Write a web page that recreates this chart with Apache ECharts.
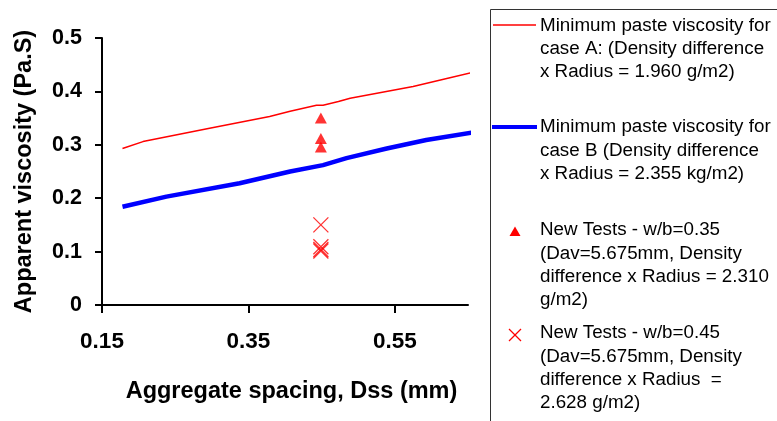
<!DOCTYPE html>
<html>
<head>
<meta charset="utf-8">
<script src="https://cdn.jsdelivr.net/npm/echarts@6/dist/echarts.min.js"></script>
<style>
  html, body { margin: 0; padding: 0; background: #fff; }
  #chart { width: 777px; height: 421px; }
</style>
</head>
<body>
<div id="chart"></div>
<script>
// Case A line (red, thin)
const caseA_x = [0.178, 0.206, 0.297, 0.379, 0.407, 0.443, 0.452, 0.473, 0.489, 0.575, 0.621, 0.661];
const caseA_y = [0.293, 0.306, 0.331, 0.353, 0.363, 0.374, 0.374, 0.381, 0.387, 0.409, 0.424, 0.437];
// Case B line (blue, thick)
const caseB_x = [0.178, 0.238, 0.338, 0.407, 0.452, 0.484, 0.539, 0.593, 0.661];
const caseB_y = [0.184, 0.203, 0.228, 0.250, 0.262, 0.275, 0.293, 0.309, 0.324];
// New tests w/b = 0.35 (triangles)
const tests035_x = [0.449, 0.449, 0.449];
const tests035_y = [0.350, 0.312, 0.296];
// New tests w/b = 0.45 (crosses)
const tests045_x = [0.449, 0.449, 0.449, 0.449];
const tests045_y = [0.150, 0.109, 0.104, 0.101];
// Tick labels
const xTicks = [0.15, 0.35, 0.55];
const yTicks = [0, 0.1, 0.2, 0.3, 0.4, 0.5];

const legendA = ['Minimum paste viscosity for', 'case A: (Density difference', 'x Radius = 1.960 g/m2)'];
const legendB = ['Minimum paste viscosity for', 'case B (Density difference', 'x Radius = 2.355 kg/m2)'];
const legendT = ['New Tests - w/b=0.35', '(Dav=5.675mm, Density', 'difference x Radius = 2.310', 'g/m2)'];
const legendX = ['New Tests - w/b=0.45', '(Dav=5.675mm, Density', 'difference x Radius  =', '2.628 g/m2)'];

const zip = (xs, ys) => xs.map((x, i) => [x, ys[i]]);
const FONT = 'Liberation Sans, Arial, sans-serif';

const chart = echarts.init(document.getElementById('chart'));
const legendFont = '18.8px ' + FONT;
function legendText(lines, top) {
  return { type: 'text', left: 540, top: top, style: { text: lines.join('\n'), font: legendFont, lineHeight: 23.3, fill: '#000' } };
}
chart.setOption({
  animation: false,
  grid: { left: 102, top: 38, width: 366, height: 267, containLabel: false },
  xAxis: {
    type: 'value', min: 0.15, max: 0.65,
    name: 'Aggregate spacing, Dss (mm)', nameLocation: 'middle', nameGap: 75,
    nameTextStyle: { fontFamily: FONT, fontWeight: 'bold', fontSize: 23.5, color: '#000', padding: [0, 0, 0, 13] },
    axisLine: { onZero: false, lineStyle: { color: '#000', width: 2 } },
    axisTick: { customValues: xTicks, length: 8, lineStyle: { color: '#000', width: 2 } },
    axisLabel: { customValues: xTicks, margin: 25, fontFamily: FONT, fontWeight: 'bold', fontSize: 22.5, color: '#000',
      formatter: v => v.toFixed(2) },
    splitLine: { show: false }
  },
  yAxis: {
    type: 'value', min: 0, max: 0.5, interval: 0.1,
    name: 'Apparent viscosity (Pa.S)', nameLocation: 'middle', nameGap: 65, nameRotate: 90,
    nameTextStyle: { fontFamily: FONT, fontWeight: 'bold', fontSize: 23.5, color: '#000' },
    axisLine: { show: true, lineStyle: { color: '#000', width: 2 } },
    axisTick: { show: true, length: 7, lineStyle: { color: '#000', width: 2 } },
    axisLabel: { margin: 20, fontFamily: FONT, fontWeight: 'bold', fontSize: 21.5, color: '#000',
      formatter: v => String(Math.round(v * 10) / 10) },
    splitLine: { show: false }
  },
  series: [
    { name: legendA.join(' '), type: 'line', data: zip(caseA_x, caseA_y), showSymbol: false, clip: false,
      lineStyle: { color: '#ff0000', width: 1.5 }, itemStyle: { color: '#ff0000' } },
    { name: legendB.join(' '), type: 'line', data: zip(caseB_x, caseB_y), showSymbol: false, clip: false,
      lineStyle: { color: '#0000ff', width: 4.5 }, itemStyle: { color: '#0000ff' } },
    { name: legendT.join(' '), type: 'scatter', data: zip(tests035_x, tests035_y), symbol: 'triangle', symbolSize: [12, 11],
      itemStyle: { color: '#ff0000' } },
    { name: legendX.join(' '), type: 'scatter', data: zip(tests045_x, tests045_y), symbol: 'path://M0,0L10,10M10,0L0,10', symbolSize: 15,
      itemStyle: { color: 'none', borderColor: '#ff0000', borderWidth: 1.3 } }
  ],
  graphic: [
    { type: 'rect', left: 488, top: 7, shape: { x: 0, y: 0, width: 320, height: 440 }, style: { fill: 'none', stroke: '#333', lineWidth: 1 } },
    { type: 'line', shape: { x1: 493, y1: 25, x2: 536, y2: 25 }, style: { stroke: '#ff0000', lineWidth: 1.5 } },
    { type: 'line', shape: { x1: 492, y1: 127, x2: 537, y2: 127 }, style: { stroke: '#0000ff', lineWidth: 4 } },
    { type: 'polygon', shape: { points: [[515, 226.5], [520.5, 236], [509.5, 236]] }, style: { fill: '#ff0000' } },
    { type: 'polyline', shape: { points: [[509, 329], [521, 341]] }, style: { stroke: '#ff0000', lineWidth: 1.2, fill: 'none' } },
    { type: 'polyline', shape: { points: [[521, 329], [509, 341]] }, style: { stroke: '#ff0000', lineWidth: 1.2, fill: 'none' } },
    legendText(legendA, 14),
    legendText(legendB, 115.5),
    legendText(legendT, 218.5),
    legendText(legendX, 321.5)
  ]
});
</script>
</body>
</html>
